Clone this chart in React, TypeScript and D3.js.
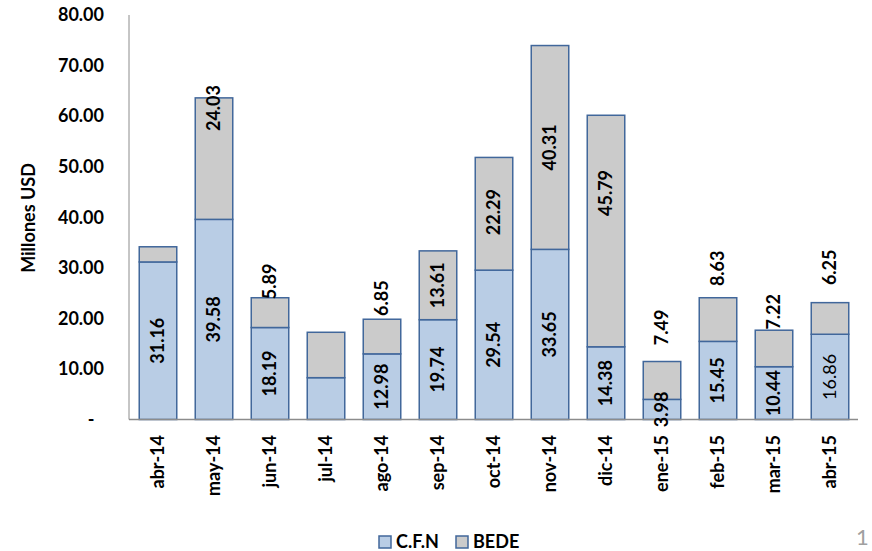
import React from "react";
import * as d3 from "d3";

const months = ["abr-14","may-14","jun-14","jul-14","ago-14","sep-14","oct-14","nov-14","dic-14","ene-15","feb-15","mar-15","abr-15"];
const cfn = [31.16, 39.58, 18.19, 8.27, 12.98, 19.74, 29.54, 33.65, 14.38, 3.98, 15.45, 10.44, 16.86];
const bede = [3.0, 24.03, 5.89, 8.98, 6.85, 13.61, 22.29, 40.31, 45.79, 7.49, 8.63, 7.22, 6.25];
const cfnLabels = ["31.16","39.58","18.19","","12.98","19.74","29.54","33.65","14.38","3.98","15.45","10.44","16.86"];
const bedeLabels = ["","24.03","5.89","","6.85","13.61","22.29","40.31","45.79","7.49","8.63","7.22","6.25"];
// label centre, in data units (null = centred in the segment)
const bedeLabelAt: (number | null)[] = [null, 61.6, 27.3, null, 24.0, null, 41.0, null, 44.8, 18.2, 29.9, 21.3, 30.1];
const yTicks = [0, 10, 20, 30, 40, 50, 60, 70, 80];
const seriesNames = ["C.F.N", "BEDE"];

const W = 872, H = 551;
const FONT = "Lato, 'Open Sans', sans-serif";
const CFN_FILL = "#b9cde5";
const BEDE_FILL = "#cbcbcb";
const STROKE = "#41679b";
const AXIS = "#8c8c8c";

export default function App() {
  const x = d3.scaleBand<string>().domain(months).range([130, 858]).paddingInner(0.33).paddingOuter(0.165);
  const y = d3.scaleLinear().domain([0, 80]).range([419.5, 15]);
  const bw = x.bandwidth();
  const fmt = d3.format(".2f");

  return (
    <svg width={W} height={H} style={{ position: "absolute", left: 0, top: 0, background: "#fff" }} fontFamily={FONT}>
      {/* y axis title */}
      <text transform={`translate(29,218) rotate(-90)`} textAnchor="middle" dy="0.36em" fontSize={18} fontWeight="bold" fill="#000">Millones USD</text>
      {/* y tick labels */}
      {yTicks.map(t => (
        <text key={t} x={t === 0 ? 91 : 104} y={y(t)} dy="0.35em" textAnchor={t === 0 ? "middle" : "end"} fontSize={18} fontWeight="bold" fill="#000">
          {t === 0 ? "-" : fmt(t)}
        </text>
      ))}
      {/* bars */}
      {months.map((m, i) => {
        const x0 = x(m)!;
        return (
          <g key={m}>
            <rect x={x0} y={y(cfn[i])} width={bw} height={y(0) - y(cfn[i])} fill={CFN_FILL} stroke={STROKE} strokeWidth={1.5} />
            <rect x={x0} y={y(cfn[i] + bede[i])} width={bw} height={y(cfn[i]) - y(cfn[i] + bede[i])} fill={BEDE_FILL} stroke={STROKE} strokeWidth={1.5} />
          </g>
        );
      })}
      {/* axes */}
      <line x1={129} x2={129} y1={y(80)} y2={y(0)} stroke={AXIS} strokeWidth={1} />
      <line x1={129} x2={858} y1={y(0)} y2={y(0)} stroke={AXIS} strokeWidth={1.5} />
      {/* value labels */}
      {months.map((m, i) => {
        const cx = x(m)! + bw / 2;
        const cfnC = y(cfn[i] / 2);
        const bAt = bedeLabelAt[i];
        const bedeC = bAt == null ? y(cfn[i] + bede[i] / 2) : y(bAt);
        return (
          <g key={"l" + m}>
            {cfnLabels[i] && (
              <text transform={`translate(${cx},${cfnC}) rotate(-90)`} textAnchor="middle" dy="0.36em" fontSize={18} fontWeight={i === 12 ? "normal" : "bold"} fill="#000">{cfnLabels[i]}</text>
            )}
            {bedeLabels[i] && (
              <text transform={`translate(${cx},${bedeC}) rotate(-90)`} textAnchor="middle" dy="0.36em" fontSize={18} fontWeight="bold" fill="#000">{bedeLabels[i]}</text>
            )}
          </g>
        );
      })}
      {/* x labels */}
      {months.map(m => (
        <text key={"x" + m} transform={`translate(${x(m)! + bw / 2},435) rotate(-90)`} textAnchor="end" dy="0.36em" fontSize={18} fontWeight="bold" fill="#000">{m}</text>
      ))}
      {/* legend */}
      {seriesNames.map((s, i) => {
        const lx = i === 0 ? 379 : 456;
        return (
          <g key={s}>
            <rect x={lx} y={536} width={12} height={12} fill={i === 0 ? CFN_FILL : BEDE_FILL} stroke={STROKE} strokeWidth={1.5} />
            <text x={lx + 17} y={542} dy="0.36em" fontSize={18} fontWeight="bold" fill="#000">{s}</text>
          </g>
        );
      })}
      {/* page number */}
      <text x={856} y={545} fontSize={22} fill="#a0a0a0">1</text>
    </svg>
  );
}
